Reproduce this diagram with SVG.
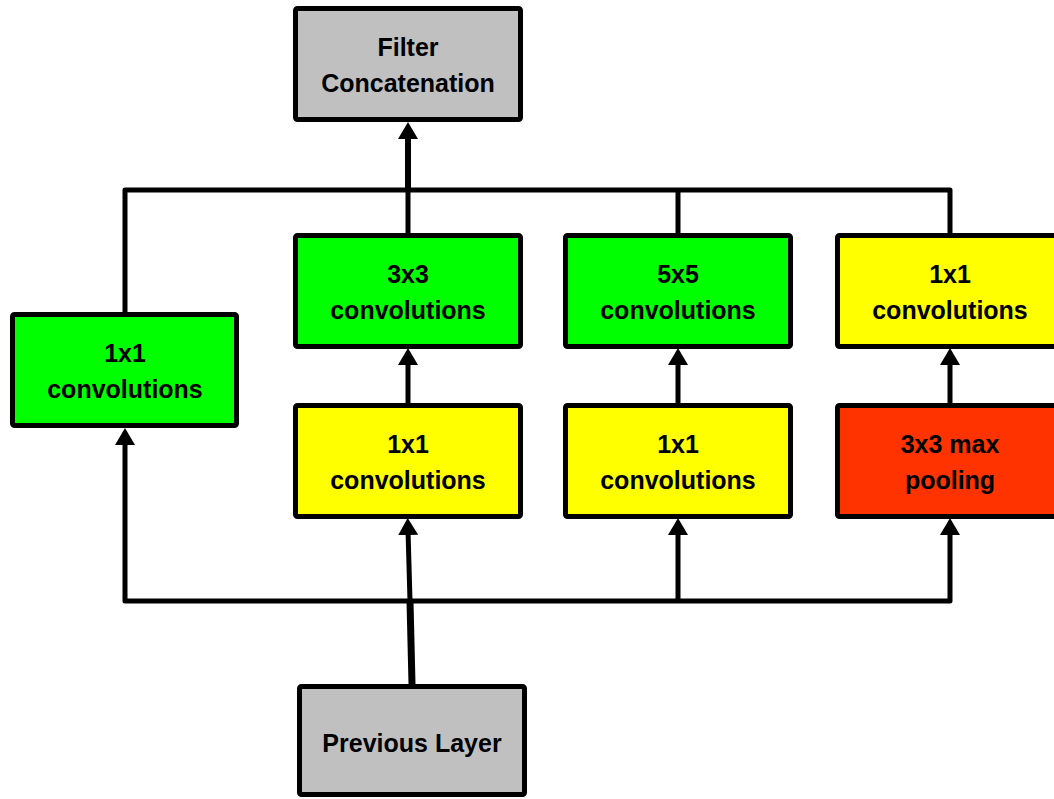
<svg xmlns="http://www.w3.org/2000/svg" width="1054" height="799" viewBox="0 0 1054 799">
<defs>
<style>
.box{stroke:#000;stroke-width:5;stroke-linejoin:round}
.gray{fill:#C0C0C0}.green{fill:#00FF00}.yellow{fill:#FFFF00}.red{fill:#FF3300}
.t{font-family:"Liberation Sans",Arial,sans-serif;font-weight:bold;font-size:25px;fill:#000;text-anchor:middle}
.c{fill:none;stroke:#000;stroke-width:5;stroke-linejoin:round}
.a{marker-end:url(#ah)}
</style>
<marker id="ah" viewBox="0 0 17 20" refX="5" refY="10" markerWidth="17" markerHeight="20" markerUnits="userSpaceOnUse" orient="auto-start-reverse">
<path d="M0,0 L17,10 L0,20 z" fill="#000"/>
</marker>
</defs>
<g id="connectors">
<path class="c" d="M125,312 V190 H950 V233"/>
<path class="c" d="M678,190 V233"/>
<path class="c" d="M408,233 V190"/>
<path class="c a" style="stroke-width:6" d="M408,190 V134"/>
<path class="c" style="marker-start:url(#ah);marker-end:url(#ah)" d="M125,440 V601 H950 V530"/>
<path class="c a" d="M678,601 V530"/>
<path class="c" style="stroke-width:7" d="M412,684 L410,601"/>
<path class="c a" d="M410,601 L408,530"/>
<path class="c a" d="M408,403 V360"/>
<path class="c a" d="M678,403 V360"/>
<path class="c a" d="M950,403 V360"/>
</g>
<g id="filter-concat">
<rect class="box gray" x="295.5" y="8.5" width="225" height="111" rx="2"/>
<text class="t" x="408" y="56">Filter</text>
<text class="t" x="408" y="92">Concatenation</text>
</g>
<g id="conv1x1-left">
<rect class="box green" x="12.5" y="314.5" width="224" height="111" rx="2"/>
<text class="t" x="125" y="362">1x1</text>
<text class="t" x="125" y="398">convolutions</text>
</g>
<g id="conv3x3">
<rect class="box green" x="295.5" y="235.5" width="225" height="111" rx="2"/>
<text class="t" x="408" y="283">3x3</text>
<text class="t" x="408" y="319">convolutions</text>
</g>
<g id="conv5x5">
<rect class="box green" x="565.5" y="235.5" width="225" height="111" rx="2"/>
<text class="t" x="678" y="283">5x5</text>
<text class="t" x="678" y="319">convolutions</text>
</g>
<g id="conv1x1-right">
<rect class="box yellow" x="837.5" y="235.5" width="225" height="111" rx="2"/>
<text class="t" x="950" y="283">1x1</text>
<text class="t" x="950" y="319">convolutions</text>
</g>
<g id="reduce3x3">
<rect class="box yellow" x="295.5" y="405.5" width="225" height="111" rx="2"/>
<text class="t" x="408" y="453">1x1</text>
<text class="t" x="408" y="489">convolutions</text>
</g>
<g id="reduce5x5">
<rect class="box yellow" x="565.5" y="405.5" width="225" height="111" rx="2"/>
<text class="t" x="678" y="453">1x1</text>
<text class="t" x="678" y="489">convolutions</text>
</g>
<g id="maxpool">
<rect class="box red" x="837.5" y="405.5" width="225" height="111" rx="2"/>
<text class="t" x="950" y="453">3x3 max</text>
<text class="t" x="950" y="489">pooling</text>
</g>
<g id="previous-layer">
<rect class="box gray" x="299.5" y="686.5" width="225" height="108" rx="2"/>
<text class="t" x="412" y="752">Previous Layer</text>
</g>
</svg>
